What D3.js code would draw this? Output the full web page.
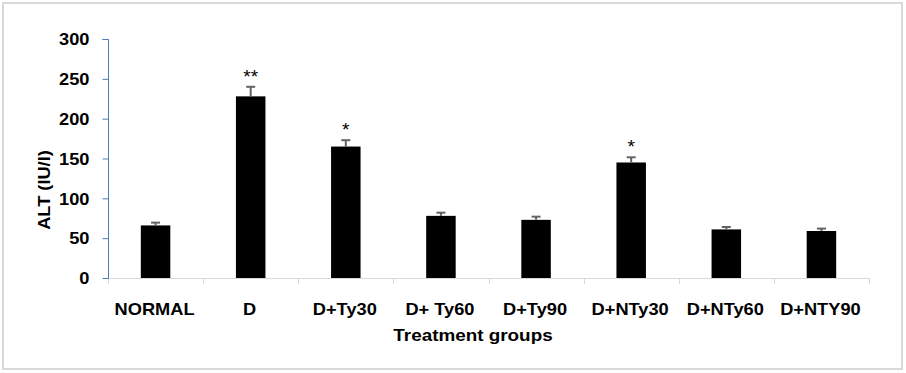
<!DOCTYPE html>
<html>
<head>
<meta charset="utf-8">
<script src="https://cdn.jsdelivr.net/npm/d3@7"></script>
<style>
  html, body { margin: 0; padding: 0; background: #fff; }
  svg { display: block; }
  text { font-family: "Liberation Sans", Arial, sans-serif; }
</style>
</head>
<body>
<svg id="chart" width="906" height="373"></svg>
<script>
const categories = ["NORMAL", "D", "D+Ty30", "D+ Ty60", "D+Ty90", "D+NTy30", "D+NTy60", "D+NTY90"];
const values = [66, 228, 165, 78, 73, 145, 61, 59];
const errors = [3.5, 12, 8, 4, 4, 6.5, 3, 3];
const significance = ["", "**", "*", "", "", "*", "", ""];
const yTicks = [0, 50, 100, 150, 200, 250, 300];
const yLabel = "ALT (IU/l)";
const xLabel = "Treatment groups";

const svg = d3.select("#chart");
const plot = { left: 108, right: 869, top: 39, bottom: 278 };
const STRETCH = 1.14;

// outer frame
svg.append("rect")
  .attr("x", 3).attr("y", 3)
  .attr("width", 899).attr("height", 366)
  .attr("fill", "#fff")
  .attr("stroke", "#d9d9d9").attr("stroke-width", 2);

const x = d3.scaleBand()
  .domain(categories)
  .range([plot.left, plot.right])
  .paddingInner(0.69)
  .paddingOuter(0.345);

const y = d3.scaleLinear().domain([0, 300]).range([plot.bottom, plot.top]);

// x axis (light gray) with category-boundary ticks
const xAxisG = svg.append("g");
xAxisG.append("line")
  .attr("x1", plot.left).attr("x2", plot.right)
  .attr("y1", plot.bottom + 0.5).attr("y2", plot.bottom + 0.5)
  .attr("stroke", "#d9d9d9").attr("stroke-width", 1);
const bounds = d3.range(categories.length + 1).map(i => plot.left + i * (plot.right - plot.left) / categories.length);
xAxisG.selectAll("line.tk").data(bounds).join("line")
  .attr("class", "tk")
  .attr("x1", d => Math.round(d) + 0.5).attr("x2", d => Math.round(d) + 0.5)
  .attr("y1", plot.bottom).attr("y2", plot.bottom + 6)
  .attr("stroke", "#d9d9d9").attr("stroke-width", 1);

// category labels
svg.append("g").selectAll("text").data(categories).join("text")
  .attr("x", d => x(d) + x.bandwidth() / 2 - 1)
  .attr("y", 315)
  .attr("text-anchor", "middle")
  .attr("font-size", 16).attr("font-weight", "bold")
  .attr("fill", "#000")
  .text(d => d)
  .each(function(d) {
    const cx = x(d) + x.bandwidth() / 2 - 1;
    d3.select(this).attr("transform", `translate(${cx},0) scale(${STRETCH},1) translate(${-cx},0)`);
  });

// y axis
const yAxis = d3.axisLeft(y).tickValues(yTicks).tickSize(6).tickPadding(13).tickFormat(d3.format("d"));
const yG = svg.append("g").attr("transform", `translate(${plot.left + 0.5},0)`).call(yAxis);
yG.select(".domain").attr("stroke", "#4a7ebb").attr("d", `M-6,${plot.top + 0.5}H0V${plot.bottom + 0.5}`);
yG.selectAll(".tick line").attr("stroke", "#4a7ebb");
yG.selectAll(".tick text")
  .attr("font-size", 16).attr("font-weight", "bold")
  .attr("font-family", "'Liberation Sans', Arial, sans-serif")
  .attr("fill", "#000")
  .attr("dy", "0.36em")
  .each(function() {
    const xx = +d3.select(this).attr("x");
    d3.select(this).attr("transform", `translate(${xx},0) scale(${STRETCH},1) translate(${-xx},0)`);
  });

// bars
svg.append("g").selectAll("rect").data(categories).join("rect")
  .attr("x", d => x(d))
  .attr("y", (d, i) => y(values[i]))
  .attr("width", x.bandwidth())
  .attr("height", (d, i) => y(0) - y(values[i]))
  .attr("fill", "#000");

// error bars (upper only)
const eg = svg.append("g").attr("stroke", "#636363").attr("stroke-width", 2);
categories.forEach((c, i) => {
  const cx = x(c) + x.bandwidth() / 2;
  const top = y(values[i] + errors[i]);
  eg.append("line").attr("x1", cx).attr("x2", cx).attr("y1", y(values[i])).attr("y2", top);
  eg.append("line").attr("x1", cx - 4.5).attr("x2", cx + 4.5).attr("y1", top).attr("y2", top);
});

// significance stars
svg.append("g").selectAll("text").data(categories).join("text")
  .attr("x", d => x(d) + x.bandwidth() / 2)
  .attr("y", (d, i) => y(values[i] + errors[i]) - 4)
  .attr("text-anchor", "middle")
  .attr("font-size", 19)
  .attr("fill", "#000")
  .text((d, i) => significance[i]);

// axis titles
const xtX = 473;
svg.append("text")
  .attr("x", xtX).attr("y", 341)
  .attr("text-anchor", "middle")
  .attr("font-size", 16).attr("font-weight", "bold")
  .attr("transform", `translate(${xtX},0) scale(1.18,1) translate(${-xtX},0)`)
  .text(xLabel);

svg.append("text")
  .attr("transform", `translate(50,190) rotate(-90) scale(1.14,1)`)
  .attr("text-anchor", "middle")
  .attr("font-size", 16).attr("font-weight", "bold")
  .text(yLabel);
</script>
</body>
</html>
